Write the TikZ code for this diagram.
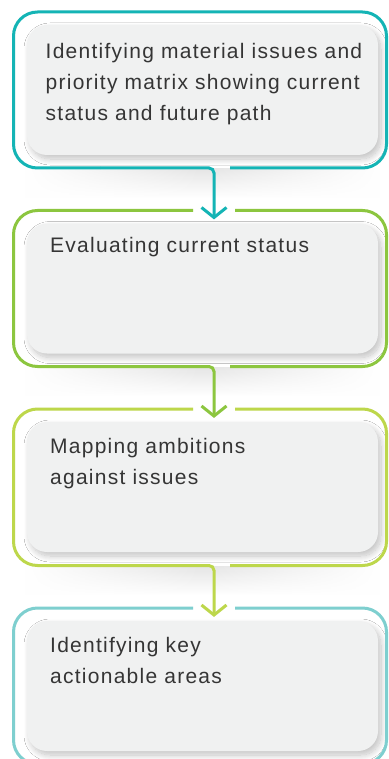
\documentclass[tikz,border=0pt]{standalone}
\usepackage{fontspec}
\setmainfont{Liberation Sans}[LetterSpace=6]
\usetikzlibrary{shadows.blur,fadings}
\definecolor{cteal}{HTML}{14B4B5}
\definecolor{cgreen}{HTML}{8CC63F}
\definecolor{clime}{HTML}{BDD74B}
\definecolor{clteal}{HTML}{7ECFCF}
\definecolor{boxfill}{HTML}{F0F1F1}
\definecolor{txtcol}{HTML}{353535}
\tikzfading[name=fadesides, left color=transparent!100, right color=transparent!100, middle color=transparent!0]
\begin{document}
\begin{tikzpicture}[x=1pt,y=-1pt,
  outshade/.style={top color=black!10, bottom color=white, path fading=fadesides},
  inbox/.style={draw=none, fill=boxfill, rounded corners=20pt, minimum width=351pt, minimum height=130pt, inner sep=0pt,
    blur shadow={shadow xshift=3pt, shadow yshift=-4pt, shadow opacity=24, shadow blur radius=6pt, shadow blur steps=12}},
  txt/.style={anchor=base west, align=left, inner sep=0pt, text=txtcol, font=\fontsize{21}{31}\selectfont},
  frame/.style={line width=3pt, line cap=butt, rounded corners=24pt},
  conn/.style={line width=3pt, line cap=butt, rounded corners=5pt},
  chev/.style={line width=3pt, line cap=butt, line join=miter}
]
\useasboundingbox (0,0) rectangle (388,759);
\fill[white] (0,0) rectangle (388,759);

% soft shadows below each frame
\foreach \B in {168,366.5,565.5}{
  \shade[outshade] (25,\B+1) rectangle (380,\B+30);
}

% inner boxes
\node[inbox] (b1) at (202.5,90) {};
\node[inbox] (b2) at (202.5,288.5) {};
\node[inbox] (b3) at (202.5,487) {};
\node[inbox] (b4) at (202.5,686) {};

% texts (anchored at the baseline of their last line)
\node[txt] (t1) at (45.5,120.3) {Identifying material issues and\\priority matrix showing current\\status and future path};
\node[txt] (t2) at (50,252) {Evaluating current status};
\node[txt] (t3) at (50,484) {Mapping ambitions\\against issues};
\node[txt] (t4) at (50,683.5) {Identifying key\\actionable areas};

% coordinates
\coordinate (c1) at (214,217.5);
\coordinate (c2) at (214,416);
\coordinate (c3) at (214,615);

% box 1 frame
\draw[frame, cteal] (230,168) -- (386.5,168) -- (386.5,12) -- (13.5,12) -- (13.5,168) -- (100,168);
\draw[conn, cteal] (100,168) -- (214,168) -- (c1);
\draw[chev, cteal] (201.5,207.5) -- (c1) -- (226.5,207.5);

% box 2 frame
\draw[frame, cgreen] (235,210.5) -- (386.5,210.5) -- (386.5,366.5) -- (230,366.5);
\draw[frame, cgreen] (193,210.5) -- (13.5,210.5) -- (13.5,366.5) -- (100,366.5);
\draw[conn, cgreen] (100,366.5) -- (214,366.5) -- (c2);
\draw[chev, cgreen] (201.5,406) -- (c2) -- (226.5,406);

% box 3 frame
\draw[frame, clime] (235,409) -- (386.5,409) -- (386.5,565.5) -- (230,565.5);
\draw[frame, clime] (193,409) -- (13.5,409) -- (13.5,565.5) -- (100,565.5);
\draw[conn, clime] (100,565.5) -- (214,565.5) -- (c3);
\draw[chev, clime] (201.5,605) -- (c3) -- (226.5,605);

% box 4 frame
\draw[frame, clteal] (235,608) -- (386.5,608) -- (386.5,764) -- (13.5,764) -- (13.5,608) -- (193,608);
\end{tikzpicture}
\end{document}
